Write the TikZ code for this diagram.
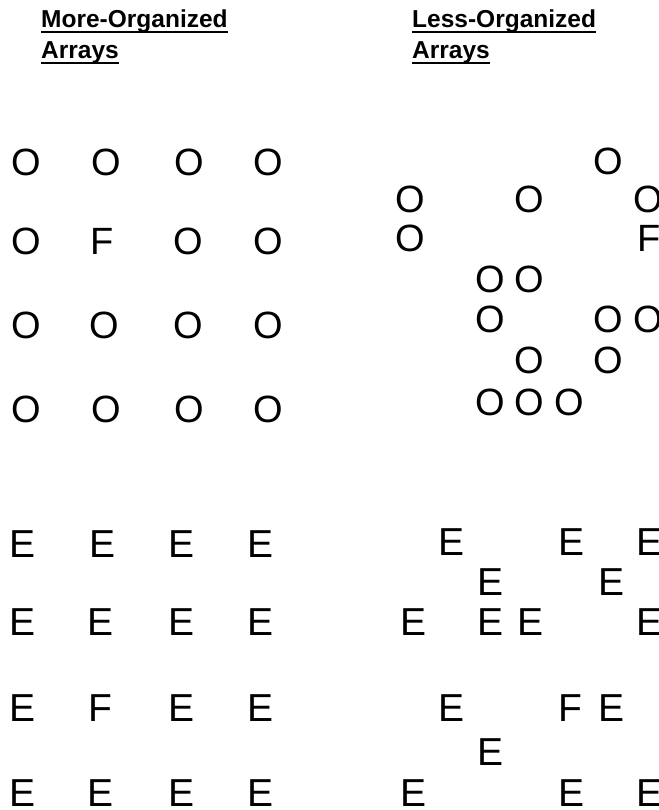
\documentclass[tikz,border=0pt]{standalone}
\usepackage{fontspec}
\setmainfont{Liberation Sans}
\begin{document}
\begin{tikzpicture}[x=1pt,y=-1pt,
  ttl/.style={font=\fontsize{24.5}{30}\selectfont\bfseries, anchor=base west, inner sep=0pt},
  ul/.style={line width=2pt},
  lo/.style={font=\fontsize{38}{40}\selectfont, anchor=base, inner sep=0pt},
  le/.style={font=\fontsize{39}{40}\selectfont, anchor=base, inner sep=0pt}]
\useasboundingbox (0,0) rectangle (658,810);
% titles
\node[ttl] (tl1) at (41,28) {More-Organized};
\node[ttl] (tl2) at (41,59) {Arrays};
\node[ttl] (tr1) at (412,28) {Less-Organized};
\node[ttl] (tr2) at (412,59) {Arrays};
\foreach \t in {tl1,tl2,tr1,tr2}
  \draw[ul] ([yshift=-4pt]\t.base west) -- ([yshift=-4pt]\t.base east);
% top-left organized O array
\foreach \x/\y [count=\i] in {26/176,106/176,189/176,268/176,
  26/254.5,188/254.5,268/254.5,
  26/338,104/338,188/338,268/338,
  26/422.5,106/422.5,189/422.5,268/422.5}
  \node[lo] (ol\i) at (\x,\y) {O};
\node[lo] (olf) at (102,254.5) {F};
% top-right less organized O array
\foreach \x/\y [count=\i] in {608/175,410/213,529/213,648/213,410/251.5,
  490/292,529/292,490/332,608/332,648/332,529/373,608/373,
  490/415,529/415,569/415}
  \node[lo] (or\i) at (\x,\y) {O};
\node[lo] (orf) at (649,251.5) {F};
% bottom-left organized E array
\foreach \x/\y [count=\i] in {23/557,103/557,182/557,261/557,
  23/635,101/635,182/635,261/635,
  23/721,182/721,261/721,
  23/806,101/806,182/806,261/806}
  \node[le] (el\i) at (\x,\y) {E};
\node[le] (elf) at (100,721) {F};
% bottom-right less organized E array
\foreach \x/\y [count=\i] in {451/555,571/555,649/555,490/595,611/595,
  413/635,490/635,530/635,649/635,451/721,611/721,490/765,
  413/806,571/806,649/806}
  \node[le] (er\i) at (\x,\y) {E};
\node[le] (erf) at (570,721) {F};
\end{tikzpicture}
\end{document}
